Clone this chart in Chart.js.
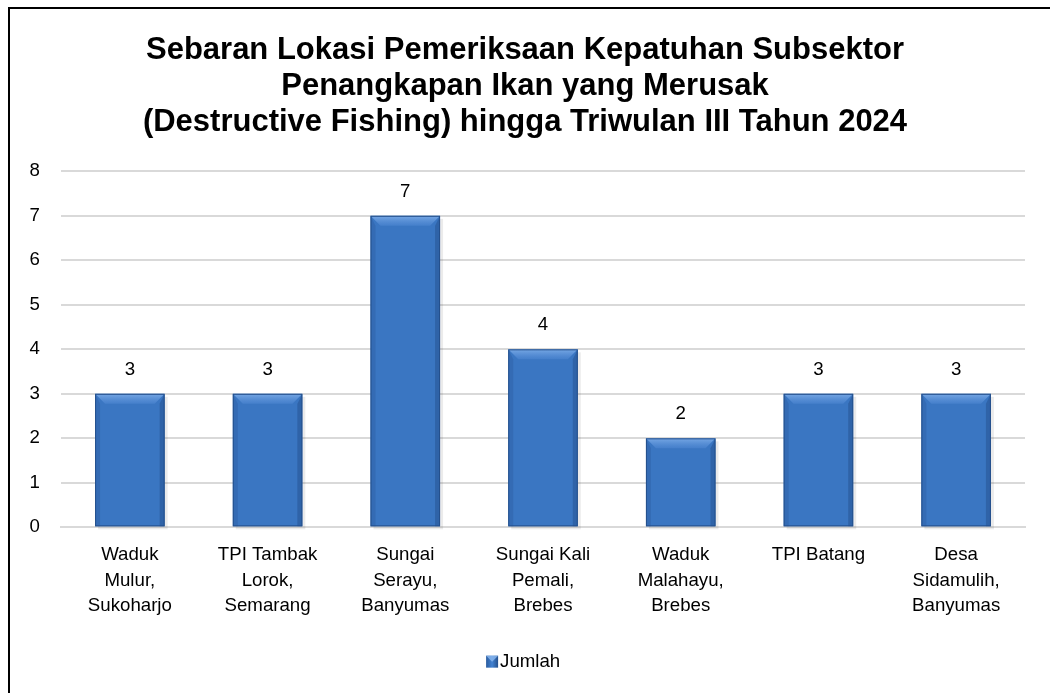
<!DOCTYPE html>
<html><head><meta charset="utf-8">
<script src="https://cdn.jsdelivr.net/npm/chart.js@4"></script>
<style>html,body{margin:0;padding:0;background:#fff}#wrap{width:1050px;height:693px;position:relative}</style>
</head><body><div id="wrap"><canvas id="c" width="1050" height="693"></canvas></div>
<script>
const categories = [
  ["Waduk","Mulur,","Sukoharjo"],
  ["TPI Tambak","Lorok,","Semarang"],
  ["Sungai","Serayu,","Banyumas"],
  ["Sungai Kali","Pemali,","Brebes"],
  ["Waduk","Malahayu,","Brebes"],
  ["TPI Batang"],
  ["Desa","Sidamulih,","Banyumas"]
];
const jumlah = [3, 3, 7, 4, 2, 3, 3];
const seriesName = "Jumlah";
const titleLines = ["Sebaran Lokasi Pemeriksaan Kepatuhan Subsektor","Penangkapan Ikan yang Merusak","(Destructive Fishing) hingga Triwulan III Tahun 2024"];
const yMin = 0, yMax = 8, yStep = 1;

const FONT = "'Liberation Sans', Arial, sans-serif";
const FS = 18.67;

function barGradient(ctx){
  const chart = ctx.chart;
  const el = ctx.element;
  if(!el || !chart.chartArea || el.width === undefined || isNaN(el.x)) return '#3a76c2';
  const x0 = el.x - el.width/2, x1 = el.x + el.width/2;
  const g = chart.ctx.createLinearGradient(x0, 0, x1, 0);
  g.addColorStop(0, '#2b5c9e');
  g.addColorStop(0.12, '#3a76c4');
  g.addColorStop(0.5, '#3e7dcd');
  g.addColorStop(0.88, '#3771bb');
  g.addColorStop(1, '#24508c');
  return g;
}

const bevelPlugin = {
  id:'bevel',
  beforeDatasetsDraw(chart){
    const c = chart.ctx;
    const meta = chart.getDatasetMeta(0);
    c.save();
    meta.data.forEach(el=>{
      const w = el.width, x0 = el.x - w/2, top = el.y, base = el.base;
      c.fillStyle = 'rgba(0,0,0,0.08)';
      c.fillRect(x0+3, top+3, w, base-top);
    });
    c.restore();
  },
  afterDatasetsDraw(chart){
    const c = chart.ctx;
    const meta = chart.getDatasetMeta(0);
    meta.data.forEach(el=>{
      const w = el.width, x0 = el.x - w/2, x1 = el.x + w/2, top = el.y, base = el.base;
      const b = 10;
      c.save();
      const tg = c.createLinearGradient(0, top, 0, top+b);
      tg.addColorStop(0, 'rgba(140,185,240,0.75)');
      tg.addColorStop(1, 'rgba(90,145,220,0.35)');
      c.beginPath();
      c.moveTo(x0, top); c.lineTo(x1, top); c.lineTo(x1-b, top+b); c.lineTo(x0+b, top+b); c.closePath();
      c.fillStyle = tg; c.fill();
      c.beginPath();
      c.moveTo(x0, top); c.lineTo(x0+b*0.5, top+b); c.lineTo(x0+b*0.5, base); c.lineTo(x0, base); c.closePath();
      c.fillStyle = 'rgba(30,70,130,0.22)'; c.fill();
      c.beginPath();
      c.moveTo(x1, top); c.lineTo(x1-b*0.5, top+b); c.lineTo(x1-b*0.5, base); c.lineTo(x1, base); c.closePath();
      c.fillStyle = 'rgba(20,50,100,0.28)'; c.fill();
      c.strokeStyle = '#24508c'; c.lineWidth = 1;
      c.strokeRect(x0+0.5, top+0.5, w-1, base-top-1);
      c.restore();
    });
  }
};

const labelPlugin = {
  id:'vlabels',
  afterDatasetsDraw(chart){
    const c = chart.ctx;
    const meta = chart.getDatasetMeta(0);
    c.save();
    c.font = FS + "px " + FONT;
    c.fillStyle = '#000';
    c.textAlign = 'center';
    c.textBaseline = 'middle';
    meta.data.forEach((el,i)=>{
      c.fillText(String(jumlah[i]), el.x, el.y - 24);
    });
    c.restore();
  }
};

const legendBoxPlugin = {
  id:'legendBox',
  afterDraw(chart){
    const lg = chart.legend;
    if(!lg || !lg.legendHitBoxes || !lg.legendHitBoxes.length) return;
    const hb = lg.legendHitBoxes[0];
    const textX = hb.left + 1 + FS/2;
    const s = 12;
    const bx = textX - s - 2, by = hb.top + hb.height/2 - s/2;
    const c = chart.ctx;
    c.save();
    const g = c.createLinearGradient(bx, 0, bx+s, 0);
    g.addColorStop(0, '#2b5c9e'); g.addColorStop(0.5, '#4282d2'); g.addColorStop(1, '#24508c');
    c.fillStyle = g;
    c.fillRect(bx, by, s, s);
    c.fillStyle = 'rgba(140,185,240,0.8)';
    c.beginPath(); c.moveTo(bx, by); c.lineTo(bx+s, by); c.lineTo(bx+s/2, by+s/2); c.closePath(); c.fill();
    c.restore();
  }
};

const borderPlugin = {
  id:'frame',
  afterDraw(chart){
    const c = chart.ctx;
    c.save();
    c.strokeStyle = '#000'; c.lineWidth = 2;
    c.beginPath();
    c.moveTo(9, 693); c.lineTo(9, 8); c.lineTo(1050, 8);
    c.stroke();
    c.restore();
  }
};

new Chart(document.getElementById('c'), {
  type:'bar',
  data:{
    labels: categories,
    datasets:[{
      label: seriesName,
      data: jumlah,
      backgroundColor: barGradient,
      borderWidth: 0,
      categoryPercentage: 1.0,
      barPercentage: 0.505
    }]
  },
  options:{
    responsive:false,
    animation:false,
    devicePixelRatio:1,
    layout:{padding:{left:25, right:25, top:0, bottom:12}},
    plugins:{
      title:{
        display:true,
        text:titleLines,
        color:'#000',
        font:{family:FONT, size:31, weight:'bold', lineHeight:1.165},
        padding:{top:32, bottom:31}
      },
      legend:{
        display:true,
        position:'bottom',
        labels:{
          color:'#000',
          font:{family:FONT, size:FS},
          boxWidth:1, boxHeight:12,
          padding:10,
          generateLabels(chart){
            return [{text:seriesName, fillStyle:'rgba(0,0,0,0)', strokeStyle:'rgba(0,0,0,0)', lineWidth:0, hidden:false, datasetIndex:0}];
          }
        }
      },
      tooltip:{enabled:false}
    },
    scales:{
      x:{
        grid:{display:false, drawTicks:false},
        border:{display:true, color:'#d9d9d9', width:2},
        ticks:{color:'#000', font:{family:FONT, size:FS, lineHeight:1.366}, padding:15, maxRotation:0, autoSkip:false},
        afterFit(s){ s.height = 115; }
      },
      y:{
        min:yMin, max:yMax,
        grid:{color:'#d9d9d9', lineWidth:2, drawTicks:false},
        border:{display:false},
        ticks:{stepSize:yStep, color:'#000', font:{family:FONT, size:FS}, padding:21},
        afterFit(s){ s.width = 36; }
      }
    }
  },
  plugins:[bevelPlugin, labelPlugin, legendBoxPlugin, borderPlugin]
});
</script></body></html>
